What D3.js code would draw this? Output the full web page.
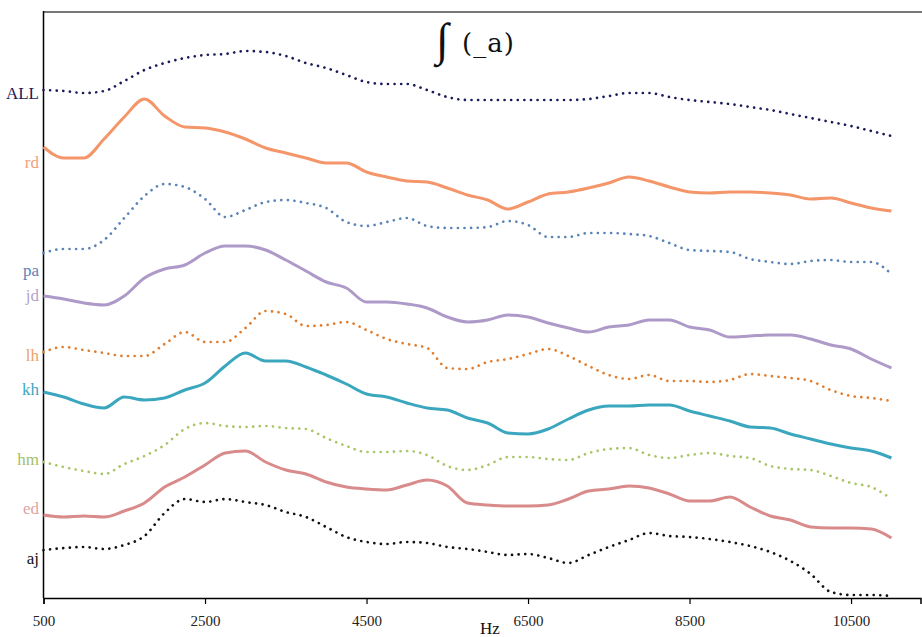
<!DOCTYPE html>
<html>
<head>
<meta charset="utf-8">
<script src="https://cdn.jsdelivr.net/npm/d3@7"></script>
<style>
  body { margin: 0; background: #fff; }
  svg text { font-family: "Liberation Serif", "DejaVu Serif", serif; }
</style>
</head>
<body>
<div id="chart"></div>
<script>
// frequency grid (Hz)
const hz = [500, 750, 1000, 1250, 1500, 1750, 2000, 2250, 2500, 2750, 3000, 3250, 3500, 3750, 4000,
  4250, 4500, 4750, 5000, 5250, 5500, 5750, 6000, 6250, 6500, 6750, 7000, 7250, 7500, 7750, 8000,
  8250, 8500, 8750, 9000, 9250, 9500, 9750, 10000, 10250, 10500, 10750, 11000];

const tickHz = [500, 2500, 4500, 6500, 8500, 10500];

const speakers = ['ALL', 'rd', 'pa', 'jd', 'lh', 'kh', 'hm', 'ed', 'aj'];

// relative level, stacked offset (bigger = lower on the page)
const ALL = [9.0, 9.1, 9.3, 9.1, 8.1, 7.0, 6.3, 5.8, 5.5, 5.4, 5.1, 5.2, 5.6, 6.3, 6.8, 7.5, 8.2, 8.4, 8.4, 9.0, 9.7,
  10.0, 10.0, 10.0, 10.0, 10.0, 10.0, 9.9, 9.6, 9.3, 9.3, 9.7, 10.0, 10.2, 10.4, 10.7, 11.0, 11.4, 11.8, 12.2, 12.6, 13.1, 13.6];
const rd = [14.7, 15.8, 15.8, 13.9, 11.7, 9.9, 11.6, 12.7, 12.8, 13.2, 13.9, 14.8, 15.3, 15.8, 16.3, 16.3, 17.2, 17.7, 18.1, 18.2, 18.8,
  19.5, 20.0, 20.9, 20.2, 19.4, 19.2, 18.8, 18.3, 17.7, 18.1, 18.7, 19.2, 19.3, 19.2, 19.2, 19.3, 19.5, 19.9, 19.8, 20.3, 20.8, 21.1];
const pa = [25.3, 24.9, 24.9, 24.0, 21.8, 19.6, 18.4, 18.7, 19.9, 21.7, 21.0, 20.2, 20.0, 20.3, 20.8, 22.2, 22.6, 22.2, 21.8, 22.6, 22.8,
  22.8, 22.7, 22.1, 22.5, 23.7, 23.7, 23.3, 23.3, 23.4, 23.6, 24.3, 25.0, 25.1, 25.2, 25.9, 26.2, 26.4, 26.1, 26.0, 26.2, 26.2, 27.4];
const jd = [29.6, 29.9, 30.3, 30.5, 29.6, 27.8, 26.9, 26.5, 25.3, 24.6, 24.6, 25.0, 26.0, 27.1, 28.2, 28.8, 30.2, 30.2, 30.4, 30.8, 31.7,
  32.2, 32.0, 31.5, 31.7, 32.3, 32.8, 33.2, 32.7, 32.5, 32.0, 32.0, 32.7, 33.0, 33.7, 33.6, 33.5, 33.5, 33.9, 34.5, 34.9, 35.9, 36.8];
const lh = [35.2, 34.7, 35.0, 35.3, 35.6, 35.6, 34.4, 33.2, 34.2, 34.2, 32.8, 31.1, 31.4, 32.6, 32.5, 32.2, 33.0, 33.9, 34.4, 34.8, 36.8,
  36.9, 36.2, 35.9, 35.4, 34.9, 35.6, 36.6, 37.5, 37.9, 37.5, 38.1, 38.1, 38.2, 38.0, 37.4, 37.6, 37.8, 38.1, 39.0, 39.6, 39.8, 40.1];
const kh = [39.2, 39.7, 40.4, 40.8, 39.7, 40.0, 39.8, 39.0, 38.3, 36.6, 35.3, 36.1, 36.1, 36.7, 37.5, 38.4, 39.4, 39.7, 40.3, 40.8, 41.0,
  41.8, 42.3, 43.3, 43.4, 42.9, 41.9, 41.0, 40.6, 40.6, 40.5, 40.5, 41.1, 41.6, 42.1, 42.7, 42.8, 43.4, 43.9, 44.4, 44.8, 45.1, 45.8];
const hm = [46.2, 46.7, 47.1, 47.4, 46.4, 45.6, 44.5, 42.9, 42.3, 42.6, 42.7, 42.6, 42.8, 42.9, 43.8, 44.6, 45.2, 45.2, 45.1, 45.5, 46.6,
  47.0, 46.5, 45.7, 45.7, 45.9, 46.0, 45.3, 44.9, 44.8, 45.5, 45.8, 45.5, 45.3, 45.6, 45.8, 46.6, 46.9, 47.0, 47.6, 48.3, 48.7, 49.9];
const ed = [51.5, 51.7, 51.6, 51.7, 51.1, 50.3, 48.7, 47.7, 46.5, 45.3, 45.1, 46.2, 47.0, 47.4, 48.2, 48.7, 48.9, 49.0, 48.5, 48.0, 48.6,
  50.3, 50.5, 50.6, 50.6, 50.5, 49.9, 49.1, 48.9, 48.6, 48.8, 49.4, 50.1, 50.1, 49.7, 50.7, 51.6, 52.0, 52.7, 52.8, 52.8, 52.9, 53.8];
const aj = [55.0, 54.8, 54.7, 54.9, 54.5, 53.6, 51.3, 49.9, 50.2, 49.9, 50.2, 50.5, 51.2, 51.7, 52.7, 53.7, 54.2, 54.4, 54.2, 54.3, 54.7,
  54.9, 55.2, 55.5, 55.4, 55.8, 56.3, 55.5, 54.7, 54.0, 53.3, 53.6, 53.7, 53.9, 54.2, 54.6, 55.2, 56.1, 57.4, 59.2, 59.5, 59.5, 59.6];

const seriesValues = [ALL, rd, pa, jd, lh, kh, hm, ed, aj];

// styling per speaker
const lineColors = ['#1b1b5c', '#f4956a', '#5a84b8', '#ad9ac8', '#e07d2e', '#3ba7bf', '#a9c567', '#d98a8a', '#111111'];
const labelColors = ['#1b1b5c', '#f2a17e', '#5a84b8', '#b3a3cb', '#eda36a', '#3ba7bf', '#a2c067', '#e0a3a3', '#111111'];
const dotted = [true, false, true, false, true, false, true, false, true];
const labelLevel = [9.3, 16.2, 27.0, 29.5, 35.5, 38.9, 45.9, 50.8, 55.8];

const width = 922;
const height = 637;

const svg = d3.select('#chart')
  .append('svg')
  .attr('width', width)
  .attr('height', height);

const x = d3.scaleLinear()
  .domain([500, 11360])
  .range([43.5, 920.5]);

const y = d3.scaleLinear()
  .domain([0, 60])
  .range([0, 600]);

// frame: grey top rule, left axis line
svg.append('line')
  .attr('x1', 43).attr('x2', width)
  .attr('y1', 12).attr('y2', 12)
  .attr('stroke', '#777').attr('stroke-width', 2);

svg.append('line')
  .attr('x1', 43.5).attr('x2', 43.5)
  .attr('y1', 11).attr('y2', 598)
  .attr('stroke', '#000').attr('stroke-width', 1.5);

// x axis
const xAxis = svg.append('g')
  .attr('transform', 'translate(0,598)')
  .call(d3.axisBottom(x).tickValues(tickHz).tickSizeOuter(0).tickSize(6).tickFormat(d3.format('d')));

xAxis.select('.domain').attr('stroke', '#000').attr('stroke-width', 1.5);
xAxis.selectAll('.tick line').attr('stroke', '#000').attr('stroke-width', 1.2);
xAxis.selectAll('.tick text')
  .attr('y', 17)
  .attr('fill', '#222')
  .style('font-family', '"Liberation Serif", serif')
  .style('font-size', '15px');

svg.append('text')
  .attr('x', 490)
  .attr('y', 634)
  .attr('text-anchor', 'middle')
  .attr('font-size', '17px')
  .attr('fill', '#111')
  .text('Hz');

// title
svg.append('text')
  .attr('x', 436)
  .attr('y', 55)
  .attr('font-size', '46px')
  .attr('fill', '#111')
  .text('∫');

svg.append('text')
  .attr('x', 462)
  .attr('y', 52)
  .attr('font-size', '26px')
  .attr('letter-spacing', '1px')
  .style('font-family', '"DejaVu Serif", serif')
  .attr('fill', '#111')
  .text('(_a)');

// lines
const line = d3.line()
  .x((d, i) => x(hz[i]))
  .y(d => y(d))
  .curve(d3.curveMonotoneX);

speakers.forEach((name, k) => {
  const path = svg.append('path')
    .datum(seriesValues[k])
    .attr('d', line)
    .attr('fill', 'none')
    .attr('stroke', lineColors[k]);
  if (dotted[k]) {
    path.attr('stroke-width', 2.7)
      .attr('stroke-linecap', 'round')
      .attr('stroke-dasharray', '0.01 6.6');
  } else {
    path.attr('stroke-width', 3)
      .attr('stroke-linejoin', 'round');
  }

  svg.append('text')
    .attr('x', 39)
    .attr('y', y(labelLevel[k]))
    .attr('dy', '0.35em')
    .attr('text-anchor', 'end')
    .attr('font-size', '17px')
    .attr('fill', labelColors[k])
    .text(name);
});
</script>
</body>
</html>
